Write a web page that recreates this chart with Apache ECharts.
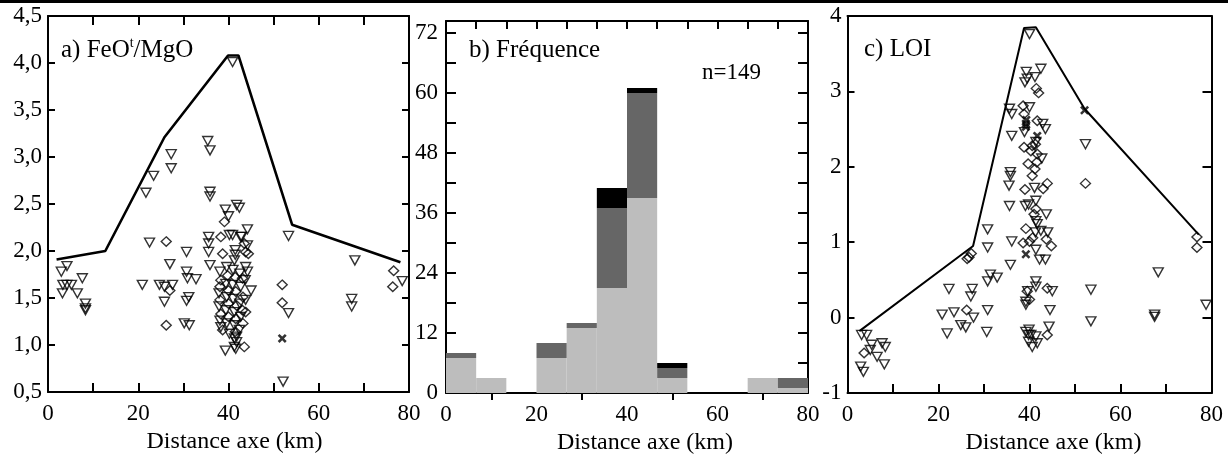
<!DOCTYPE html>
<html>
<head>
<meta charset="utf-8">
<script src="https://cdn.jsdelivr.net/npm/echarts@6/dist/echarts.min.js"></script>
<style>
html,body{margin:0;padding:0;background:#fff;}
#chart{width:1228px;height:461px;}
</style>
</head>
<body>
<div id="chart"></div>
<script>
// ---------- Panel a) FeOt/MgO ----------
const envelopeA = [[1.9,1.91],[12.7,2.00],[25.8,3.21],[39.9,4.08],[42.2,4.08],[54.1,2.28],[78.1,1.88]];
const trianglesA = [
  [2.95,1.78],[4.2,1.84],[7.6,1.71],[3.3,1.64],[4.2,1.64],[5.2,1.64],[3.2,1.55],[6.5,1.55],[8.3,1.44],[8.3,1.39],[8.3,1.37],
  [20.9,1.64],[22.5,2.09],[24.7,1.64],[25.8,1.62],[27.6,1.64],[25.8,1.46],[27.0,1.86],[30.7,1.99],[30.7,1.78],[30.9,1.71],[32.8,1.70],
  [31.2,1.51],[30.7,1.47],[30.2,1.23],[31.3,1.21],[21.7,2.62],[23.4,2.80],[27.3,3.03],[27.3,2.88],
  [35.4,3.17],[35.9,3.07],[35.9,2.63],[35.9,2.58],[35.6,2.15],[35.6,2.08],[35.6,1.99],[35.9,1.85],
  [40.9,4.01],[39.3,2.44],[40.0,2.37],[41.8,2.49],[42.4,2.46],[40.2,2.17],[40.9,2.17],[42.7,2.15],[42.9,2.15],[44.2,2.23],
  [44.2,2.06],[41.5,2.01],[41.5,1.96],[41.3,1.90],[43.8,1.83],[44.2,1.78],[43.7,1.69],[45.0,1.58],[43.8,1.48],
  [39.3,0.94],[41.3,1.07],[41.8,1.03],[41.3,0.98],[41.6,0.96],
  [38.1,1.78],[37.9,1.55],[37.9,1.41],[38.1,1.26],[38.3,1.19],[39.6,1.83],[39.4,1.65],[39.6,1.51],[39.4,1.37],[39.6,1.23],
  [40.2,1.12],[41.0,1.80],[40.9,1.64],[41.0,1.49],[41.3,1.35],[41.3,1.21],[41.8,1.09],[42.5,1.76],[42.7,1.62],[42.5,1.44],
  [42.7,1.30],[42.4,1.16],
  [53.3,2.16],[53.3,1.34],[52.1,0.61],[68.0,1.90],[67.3,1.49],[67.3,1.41],[78.5,1.68]
];
const diamondsA = [
  [26.2,2.10],[27.0,1.58],[26.2,1.21],[39.1,2.31],[38.3,2.15],[38.7,1.97],[43.5,2.08],[43.8,1.99],[44.4,1.97],[43.8,1.35],[43.5,0.98],
  [38.3,1.69],[38.1,1.62],[38.1,1.48],[38.3,1.33],[38.7,1.16],[39.8,1.74],[40.0,1.58],[40.0,1.44],[40.0,1.30],
  [41.5,1.72],[41.6,1.57],[41.8,1.42],[41.6,1.28],[41.5,1.14],[43.1,1.71],[43.2,1.51],[43.1,1.37],[43.2,1.23],
  [51.9,1.64],[51.9,1.45],[76.6,1.79],[76.4,1.62]
];
const crossesA = [[51.9,1.07]];
const ticksA = [0.5,1.0,1.5,2.0,2.5,3.0,3.5,4.0,4.5];

// ---------- Panel b) Fréquence (histogram) ----------
const binEdges = [0,6.667,13.333,20,26.667,33.333,40,46.667,53.333,60,66.667,73.333,80];
const countsLight = [7,3,0,7,13,21,39,3,0,0,3,1];
const countsDark  = [1,0,0,3,1,16,21,2,0,0,0,2];
const countsBlack = [0,0,0,0,0,4,1,1,0,0,0,0];
const ticksB = [0,12,24,36,48,60,72];
const tickMarksB = [0,6,12,18,24,30,36,42,48,54,60,66,72];
const bottomTicksB = [10,30,50,70];

// ---------- Panel c) LOI ----------
const envelopeC = [[2.6,-0.18],[27.6,0.95],[38.8,3.84],[41.4,3.85],[52.1,2.77],[77.2,1.10]];
const trianglesC = [
  [3.1,-0.23],[4.2,-0.23],[5.3,-0.36],[5.0,-0.43],[7.6,-0.34],[8.3,-0.39],[6.5,-0.52],[8.1,-0.62],[2.9,-0.65],[3.5,-0.72],
  [22.3,0.38],[20.8,0.04],[23.4,0.07],[21.9,-0.21],[24.9,-0.10],[26.0,-0.13],[27.4,0.38],[27.1,0.28],[27.7,0.0],
  [30.8,1.17],[30.8,0.93],[31.4,0.57],[30.8,0.48],[32.9,0.53],[30.8,0.10],[30.6,-0.19],
  [36.1,1.01],[35.8,0.70],[35.6,2.77],[36.1,2.70],[36.1,2.41],[35.8,1.93],[35.8,1.88],[35.5,1.75],[35.6,1.48],
  [40.0,3.76],[39.3,3.26],[39.5,3.17],[39.0,3.12],[41.2,3.19],[42.5,3.30],[40.0,2.79],[38.9,2.46],[42.9,2.57],[43.5,2.50],
  [41.4,2.33],[42.7,2.11],[41.1,1.72],[39.1,1.48],[39.8,1.50],[41.4,1.55],[43.7,1.37],[41.4,1.28],
  [41.3,1.13],[42.5,1.15],[44.0,1.13],[41.7,1.24],[41.4,0.90],[42.2,0.77],[43.5,0.77],[41.4,0.48],[41.4,0.41],[39.6,0.35],
  [39.2,0.21],[39.2,0.17],[45.0,0.35],[44.5,0.10],[44.3,-0.12],[39.2,-0.19],[39.8,-0.23],[41.4,-0.25],[39.8,-0.32],
  [41.7,-0.34],[40.6,-0.39],[39.9,-0.16],[40.3,-0.23],
  [53.5,0.37],[53.5,-0.05],[52.3,2.30],[67.5,0.04],[67.5,0.01],[68.3,0.60],[78.8,0.17]
];
const diamondsC = [
  [3.65,-0.47],[26.3,0.78],[27.2,0.85],[26.7,0.80],[26.2,0.10],
  [41.5,3.04],[42.0,2.98],[38.6,2.81],[38.8,2.70],[41.7,2.61],[38.8,2.26],[40.6,2.28],[41.3,2.30],[40.3,2.21],[41.7,2.17],
  [41.6,2.06],[39.7,2.04],[41.2,1.97],[40.6,1.88],[43.9,1.78],[43.0,1.71],[39.0,1.70],[41.4,1.44],[41.0,1.37],[39.2,1.18],
  [38.6,0.99],[40.0,1.01],[40.7,1.06],[43.7,1.04],[44.8,0.95],[39.5,0.35],[40.0,0.24],[43.9,0.39],[43.9,-0.23],
  [52.3,1.78],[76.8,1.07],[76.8,0.93]
];
const crossesC = [[52.1,2.75],[39.2,0.84],[39.2,2.57],[39.2,2.53],[41.7,2.41],[39.3,2.62]];

const xTickLabels = [0,20,40,60,80];
const xName = 'Distance axe (km)';

// ---------- chart ----------
const FONT = 'Liberation Serif';
const chart = echarts.init(document.getElementById('chart'), null, {renderer:'canvas'});

const TICK = (len, inside) => ({show:true, inside:inside !== false, length:len, lineStyle:{color:'#000', width:2}});
function ax(gridIndex, position, min, max, interval, extra) {
  const o = {
    type:'value', gridIndex, position, min, max,
    axisLine:{show:true, onZero:false, lineStyle:{color:'#000', width:2}},
    splitLine:{show:false},
    axisLabel:{show:false},
    axisTick:TICK(8)
  };
  if (interval != null) o.interval = interval;
  return Object.assign(o, extra || {});
}
const labelStyle = {color:'#000', fontFamily:FONT, fontSize:23};
const bottomLabel = {show:true, ...labelStyle, margin:10,
  formatter:(v)=> xTickLabels.indexOf(v) >= 0 ? String(v) : ''};
function nameOpts(shift){
  return {name:xName, nameLocation:'middle', nameGap:38,
    nameTextStyle:{color:'#000', fontFamily:FONT, fontSize:24, padding:[0,0,0,shift*2]}};
}
const minor = (len) => ({show:true, splitNumber:2, length:len, lineStyle:{color:'#000', width:2}});

const hollow = {color:'transparent', borderColor:'#000', borderWidth:1.4};
const crossPath = 'path://M2,0L5,3L8,0L10,2L7,5L10,8L8,10L5,7L2,10L0,8L3,5L0,2Z';

function scatterSeries(data, xi, yi, kind) {
  const s = {type:'scatter', xAxisIndex:xi, yAxisIndex:yi, data, silent:true, z:3};
  if (kind === 'tri') { s.symbol='triangle'; s.symbolSize=[10,9]; s.symbolRotate=180; s.itemStyle=hollow; }
  else if (kind === 'dia') { s.symbol='diamond'; s.symbolSize=[10,9.5]; s.itemStyle=hollow; }
  else { s.symbol=crossPath; s.symbolSize=[9,9]; s.itemStyle={color:'#000'}; }
  return s;
}

function histData(baseArrs, arr) {
  return arr.map((c,i)=>{
    let base = 0;
    baseArrs.forEach(b=>{ base += b[i]; });
    return [binEdges[i], binEdges[i+1], base, base + c];
  }).filter(d=> d[3] > d[2]);
}
function histSeries(data, color) {
  return {
    type:'custom', xAxisIndex:2, yAxisIndex:2, data, silent:true, z:1,
    encode:{x:[0,1], y:[2,3]},
    renderItem:(params, api)=>{
      const p0 = api.coord([api.value(0), api.value(2)]);
      const p1 = api.coord([api.value(1), api.value(3)]);
      return {type:'rect', shape:{x:p0[0], y:p1[1], width:p1[0]-p0[0], height:p0[1]-p1[1]},
        style:{fill:color}};
    }
  };
}

const option = {
  backgroundColor:'#fff',
  animation:false,
  title:{text:''},
  grid:[
    {left:48, top:16, width:361, height:376},
    {left:446, top:21, width:362, height:372},
    {left:847.5, top:16, width:364, height:377}
  ],
  xAxis:[
    ax(0,'bottom',0,80,20, Object.assign({axisLabel:bottomLabel, axisTick:TICK(9), minorTick:minor(9)}, nameOpts(6))),
    ax(0,'top',0,80,20, {axisTick:TICK(9), minorTick:minor(9)}),
    ax(1,'bottom',0,80,20, Object.assign({axisLabel:bottomLabel,
      axisTick:{show:true, inside:false, length:7, customValues:bottomTicksB, lineStyle:{color:'#000', width:2}}}, nameOpts(18))),
    ax(1,'top',0,80,20, {axisTick:{show:true, inside:true, length:8, customValues:binEdges, lineStyle:{color:'#000', width:2}}}),
    ax(2,'bottom',0,80,20, Object.assign({axisLabel:bottomLabel, axisTick:TICK(9), minorTick:minor(9)}, nameOpts(24))),
    ax(2,'top',0,80,20, {axisTick:{show:false}})
  ],
  yAxis:[
    ax(0,'left',0.5,4.5,0.5, {axisTick:TICK(7), axisLabel:{show:true, ...labelStyle, margin:6,
      formatter:(v)=> ticksA.some(t=>Math.abs(t-v)<1e-9) ? v.toFixed(1).replace('.', ',') : ''}}),
    ax(0,'right',0.5,4.5,0.5, {axisTick:TICK(7)}),
    ax(1,'left',0,74.4,null, {
      axisTick:{show:true, inside:true, length:10, customValues:tickMarksB, lineStyle:{color:'#000', width:2}},
      axisLabel:{show:true, ...labelStyle, margin:8, customValues:ticksB}}),
    ax(1,'right',0,74.4,null, {
      axisTick:{show:true, inside:true, length:10, customValues:tickMarksB, lineStyle:{color:'#000', width:2}}}),
    ax(2,'left',-1,4,1, {axisTick:TICK(7), axisLabel:{show:true, ...labelStyle, margin:6}}),
    ax(2,'right',-1,4,1, {axisTick:TICK(9)})
  ],
  graphic:[
    {type:'rect', shape:{x:0, y:0, width:1228, height:3}, style:{fill:'#000'}, silent:true},
    {type:'text', x:61, y:50, silent:true, style:{
      text:'{a|a) FeO}{s|t}{a|/MgO}', verticalAlign:'middle', fill:'#000',
      rich:{a:{fontFamily:FONT, fontSize:25, lineHeight:28, fill:'#000'},
            s:{fontFamily:FONT, fontSize:14, lineHeight:28, verticalAlign:'top', fill:'#000'}}}},
    {type:'text', x:469, y:50, silent:true, style:{
      text:'b) Fréquence', verticalAlign:'middle', fill:'#000', fontFamily:FONT, fontSize:25}},
    {type:'text', x:702, y:73, silent:true, style:{
      text:'n=149', verticalAlign:'middle', fill:'#000', fontFamily:FONT, fontSize:23}},
    {type:'text', x:864, y:49, silent:true, style:{
      text:'c) LOI', verticalAlign:'middle', fill:'#000', fontFamily:FONT, fontSize:25}}
  ],
  series:[
    {type:'line', xAxisIndex:0, yAxisIndex:0, data:envelopeA, symbol:'none', silent:true,
      lineStyle:{color:'#000', width:2.6}, z:2},
    scatterSeries(trianglesA,0,0,'tri'),
    scatterSeries(diamondsA,0,0,'dia'),
    scatterSeries(crossesA,0,0,'cross'),
    histSeries(histData([], countsLight), '#bdbdbd'),
    histSeries(histData([countsLight], countsDark), '#666666'),
    histSeries(histData([countsLight, countsDark], countsBlack), '#000000'),
    {type:'line', xAxisIndex:4, yAxisIndex:4, data:envelopeC, symbol:'none', silent:true,
      lineStyle:{color:'#000', width:2}, z:2},
    scatterSeries(trianglesC,4,4,'tri'),
    scatterSeries(diamondsC,4,4,'dia'),
    scatterSeries(crossesC,4,4,'cross')
  ]
};
chart.setOption(option);
</script>
</body>
</html>
